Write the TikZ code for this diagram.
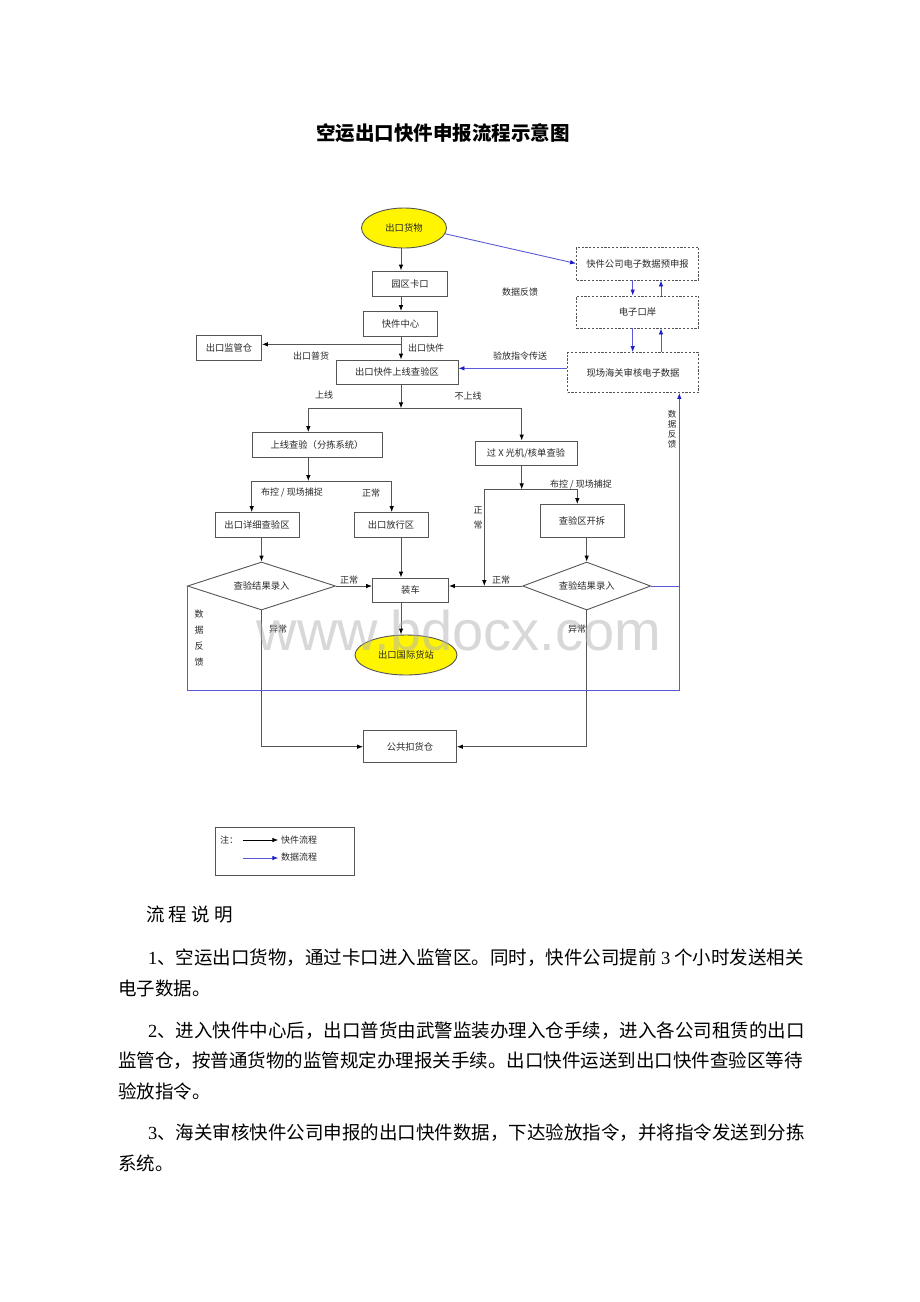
\documentclass[tikz,border=0pt]{standalone}
\usepackage{fontspec}
\setmainfont{Liberation Serif}
\newfontfamily\cjk{Noto Sans CJK SC}
\newfontfamily\wmfont{Liberation Sans}
\usetikzlibrary{shapes.geometric,arrows.meta}
\definecolor{lg}{RGB}{85,85,85}
\definecolor{txt}{RGB}{40,40,40}
\definecolor{yel}{RGB}{255,245,0}
\definecolor{bl}{RGB}{90,90,215}
\definecolor{blt}{RGB}{30,30,200}
\tikzset{
 base/.style={font=\cjk\fontsize{9.3}{11}\selectfont, text=txt, inner sep=0pt},
 box/.style={base, draw=lg, line width=0.9pt, rectangle},
 dbox/.style={base, draw=lg, line width=0.9pt, rectangle, dash pattern=on 2.2pt off 1.6pt},
 ell/.style={base, draw=lg, line width=0.9pt, ellipse, fill=yel},
 dia/.style={base, draw=lg, line width=0.9pt, diamond, aspect=3},
 lab/.style={font=\cjk\fontsize{9}{10}\selectfont, text=txt, inner sep=0pt},
 ln/.style={draw=lg, line width=0.9pt},
 arr/.style={ln, -{Latex[length=6pt,width=4.6pt,color=black,fill=black]}},
 bln/.style={draw=bl, line width=0.9pt},
 barr/.style={bln, -{Latex[length=6pt,width=4.6pt,color=blt,fill=blt]}},
 body/.style={font=\cjk\fontsize{18.5}{22}\selectfont, text=black, inner sep=0pt, anchor=west},
}
\begin{document}
\begin{tikzpicture}[x=1pt,y=-1pt]
\fill[white] (0,0) rectangle (920,1302);
\useasboundingbox (0,0) rectangle (920,1302);

% title
\node[font=\cjk\bfseries\fontsize{19.5}{22}\selectfont, inner sep=0pt] (title) at (443,133) {空运出口快件申报流程示意图};

% nodes
\node[ell, minimum width=85, minimum height=40] (goods) at (404,228) {出口货物};
\node[box, minimum width=75, minimum height=25] (gate) at (410,283.5) {园区卡口};
\node[box, minimum width=74, minimum height=25] (hub) at (400.5,324) {快件中心};
\node[box, minimum width=65, minimum height=25] (wh) at (229,348) {出口监管仓};
\node[box, minimum width=122, minimum height=24] (online) at (397,372) {出口快件上线查验区};
\node[dbox, minimum width=122, minimum height=33] (predecl) at (637.5,263.5) {快件公司电子数据预申报};
\node[dbox, minimum width=122, minimum height=32] (port) at (637.5,312) {电子口岸};
\node[dbox, minimum width=131, minimum height=40] (customs) at (633,372.5) {现场海关审核电子数据};
\node[box, minimum width=130, minimum height=25] (sort) at (317,445) {上线查验（分拣系统）};
\node[box, minimum width=102, minimum height=24] (xray) at (526,453) {过 X 光机/核单查验};
\node[box, minimum width=84, minimum height=25] (detail) at (257,525) {出口详细查验区};
\node[box, minimum width=74, minimum height=25] (release) at (391,525) {出口放行区};
\node[box, minimum width=84, minimum height=33] (open) at (582,521) {查验区开拆};
\node[dia, minimum width=148, minimum height=48] (res1) at (261.5,586) {查验结果录入};
\node[dia, minimum width=128, minimum height=48] (res2) at (586.7,586) {查验结果录入};
\node[box, minimum width=76, minimum height=24] (load) at (410.5,590) {装车};
\node[ell, minimum width=102, minimum height=40] (station) at (406,655) {出口国际货站};
\node[box, minimum width=93, minimum height=32] (hold) at (410,746.7) {公共扣货仓};

% helper coordinates
\coordinate (sp) at (401,0);
\coordinate (jw) at (401,344.3);
\coordinate (b1) at (401,408.3);
\coordinate (bl) at (308.3,408.3);
\coordinate (br) at (521.7,408.3);
\coordinate (cl) at (251.7,481);
\coordinate (cr) at (391.7,481);
\coordinate (dl) at (484.3,489.3);
\coordinate (dr) at (577.3,489.3);
\coordinate (dn) at (632.7,0);
\coordinate (up) at (661,0);
\coordinate (fbx) at (679.3,690);

% main flow
\draw[arr] (goods.south -| sp) -- (gate.north -| sp);
\draw[arr] (gate.south -| sp) -- (hub.north -| sp);
\draw[arr] (hub.south -| sp) -- (online.north -| sp);
\draw[arr] (jw) -- (jw -| wh.east);
\node[lab] (lpu) at (311,356) {出口普货};
\node[lab] (lkj) at (426,348) {出口快件};

\draw[arr] (online.south -| sp) -- (b1);
\draw[ln] (bl) -- (br);
\draw[arr] (bl) -- (bl |- sort.north);
\draw[arr] (br) -- (br |- xray.north);
\node[lab] (lsx) at (324,395) {上线};
\node[lab] (lbsx) at (468,396) {不上线};

\draw[arr] (bl |- sort.south) -- (bl |- cl);
\draw[ln] (cl) -- (cr);
\draw[arr] (cl) -- (cl |- detail.north);
\draw[arr] (cr) -- (cr |- release.north);
\node[lab] (lbk1) at (292,493) {布控 / 现场捕捉};
\node[lab] (lzc1) at (371,493) {正常};

\draw[arr] (br |- xray.south) -- (br |- dl);
\draw[ln] (dl) -- (dr);
\draw[arr] (dr) -- (dr |- open.north);
\draw[arr] (dl) -- (dl |- res2.west);
\node[lab] (lbk2) at (581,485) {布控 / 现场捕捉};
\node[lab, align=center, font=\cjk\fontsize{9}{15}\selectfont] (lzc2) at (478,517.5) {正\\常};

\draw[arr] (res1.north |- detail.south) -- (res1.north);
\draw[arr] (res2.north |- open.south) -- (res2.north);
\draw[arr] (sp |- release.south) -- (sp |- load.north);
\draw[arr] (res1.east) -- (res1.east -| load.west);
\draw[arr] (res2.west) -- (res2.west -| load.east);
\node[lab] (lzc3) at (349,580) {正常};
\node[lab] (lzc4) at (501,580) {正常};
\draw[arr] (sp |- load.south) -- (sp |- station.north);
\draw[arr] (res1.south) |- (hold.west);
\draw[arr] (res2.south) |- (hold.east);
\node[lab] (lyc1) at (278,629) {异常};
\node[lab] (lyc2) at (577,629) {异常};

% data flow
\draw[barr] (goods.-8) -- (predecl.west);
\draw[barr] (dn |- predecl.south) -- (dn |- port.north);
\draw[barr] (up |- port.north) -- (up |- predecl.south);
\draw[barr] (dn |- port.south) -- (dn |- customs.north);
\draw[barr] (up |- customs.north) -- (up |- port.south);
\draw[barr] (customs.west |- 0,368.3) -- (online.east |- 0,368.3);
\node[lab] (lyf) at (520,356) {验放指令传送};
\node[lab] (lsj) at (520,292) {数据反馈};
\draw[barr] (res1.west) |- (fbx) -- (fbx |- customs.south);
\draw[bln] (res2.east) -- (fbx |- res2.east);
\node[lab, align=center, font=\cjk\fontsize{9}{16}\selectfont] (lfb1) at (199,638.5) {数\\据\\反\\馈};
\node[lab, align=center, font=\cjk\fontsize{8.5}{10}\selectfont] (lfb2) at (672,429.5) {数\\据\\反\\馈};

% legend
\node[draw=lg, line width=0.9pt, minimum width=139, minimum height=47.7, inner sep=0pt] (legend) at (284.5,851.2) {};
\node[lab] (lzhu) at (229,840) {注：};
\coordinate (la1) at (242.7,840);
\coordinate (la2) at (278.3,840);
\coordinate (lb1) at (242.7,858);
\coordinate (lb2) at (278.3,858);
\draw[line width=0.9pt, -{Latex[length=6pt,width=4.6pt]}] (la1) -- (la2);
\draw[barr] (lb1) -- (lb2);
\node[lab, anchor=west] (lk) at (281,840) {快件流程};
\node[lab, anchor=west] (ld) at (281,857.5) {数据流程};

% body text
\node[body] (h) at (146,915) {流 程 说 明};
\node[body] (p1a) at (148,958) {{\rmfamily 1}、空运出口货物，通过卡口进入监管区。同时，快件公司提前 {\rmfamily 3} 个小时发送相关};
\node[body] (p1b) at (118,988) {电子数据。};
\node[body] (p2a) at (148,1031) {{\rmfamily 2}、进入快件中心后，出口普货由武警监装办理入仓手续，进入各公司租赁的出口};
\node[body] (p2b) at (118,1061) {监管仓，按普通货物的监管规定办理报关手续。出口快件运送到出口快件查验区等待};
\node[body] (p2c) at (118,1091) {验放指令。};
\node[body] (p3a) at (148,1133) {{\rmfamily 3}、海关审核快件公司申报的出口快件数据，下达验放指令，并将指令发送到分拣};
\node[body] (p3b) at (118,1163) {系统。};

% watermark
\node[font=\wmfont\fontsize{56}{56}\selectfont, text=gray!60, opacity=0.5, anchor=base, inner sep=0pt] (wm) at (459,650) {www.bdocx.com};
\end{tikzpicture}
\end{document}
